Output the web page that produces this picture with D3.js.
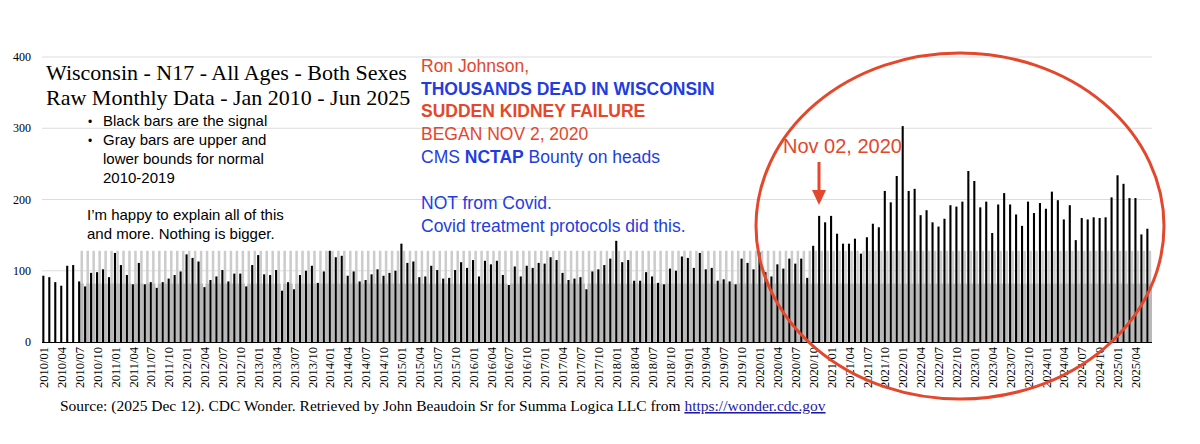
<!DOCTYPE html>
<html><head><meta charset="utf-8">
<script src="https://cdn.jsdelivr.net/npm/d3@7"></script>
<style>body{margin:0;background:#fff}svg{display:block}</style>
</head><body><svg id="c" width="1200" height="444"></svg>
<script>
const signal = [93,91,84,79,107,108,85,78,97,98,102,91,125,108,94,81,111,81,84,76,84,89,94,99,123,118,113,77,87,92,101,85,96,96,78,108,122,95,94,101,72,84,74,94,100,107,83,99,128,119,121,93,99,85,87,95,102,93,97,100,138,111,113,91,92,107,101,89,90,101,112,104,115,92,114,109,114,94,80,106,92,107,104,111,110,119,115,97,87,89,91,74,99,102,108,117,142,112,115,86,86,98,92,83,81,103,100,120,118,104,125,102,104,86,88,85,81,117,111,102,126,98,92,109,103,117,110,117,90,135,177,168,177,152,138,138,145,124,147,166,161,212,196,233,303,212,215,178,185,168,162,173,192,190,197,240,226,189,197,153,193,209,193,179,163,197,181,195,187,211,199,172,192,143,174,172,175,174,175,203,234,222,202,202,151,159];
const upperBound = 128;
const lowerBound = 82;
const boundStart = 6;
const months = signal.map((_, i) => { const y = 2010 + Math.floor(i/12), m = i%12 + 1; return y + "/" + String(m).padStart(2,"0"); });
const yTicks = [0,100,200,300,400];

const svg = d3.select("#c");
const x = d3.scaleBand().domain(months).range([42,1152]).paddingInner(0);
const y = d3.scaleLinear().domain([0,400]).range([342,57]);
const bw = x.bandwidth();

svg.append("g").selectAll("line").data(yTicks.slice(1)).join("line")
  .attr("x1",42).attr("x2",1152).attr("y1",d=>y(d)).attr("y2",d=>y(d))
  .attr("stroke","#dcdcdc").attr("stroke-width",1);
svg.append("g").selectAll("text").data(yTicks).join("text")
  .attr("x",31).attr("y",d=>y(d)+4).attr("text-anchor","end")
  .attr("font-family","Liberation Serif").attr("font-size",12).text(d=>d);

const bmonths = months.slice(boundStart);
svg.append("g").selectAll("rect").data(bmonths).join("rect")
  .attr("x",d=>x(d)+bw*0.45).attr("width",bw*0.42)
  .attr("y",y(upperBound)).attr("height",y(0)-y(upperBound)).attr("fill","#cccccc");
svg.append("g").selectAll("rect").data(bmonths).join("rect")
  .attr("x",d=>x(d)+bw*0.4).attr("width",bw*0.6)
  .attr("y",y(lowerBound)).attr("height",y(0)-y(lowerBound)).attr("fill","#b8b8b8");
svg.append("g").selectAll("rect").data(signal).join("rect")
  .attr("x",(d,i)=>x(months[i])+bw*0.05).attr("width",bw*0.35)
  .attr("y",d=>y(d)).attr("height",d=>y(0)-y(d)).attr("fill","#000");
svg.append("line").attr("x1",42).attr("x2",1152).attr("y1",342.5).attr("y2",342.5).attr("stroke","#000");

svg.append("g").selectAll("text").data(months.filter((d,i)=>i%3===0)).join("text")
  .attr("transform",d=>`translate(${x(d)+bw*0.25+4.5},347) rotate(-90)`)
  .attr("text-anchor","end").attr("font-family","Liberation Serif").attr("font-size",12.5).text(d=>d);

const serif = "Liberation Serif", sans = "Liberation Sans";
function t(xp,yp,s,size,fam,col,w){ return svg.append("text").attr("x",xp).attr("y",yp).attr("font-size",size).attr("font-family",fam).attr("fill",col||"#000").attr("font-weight",w||"normal").text(s); }
t(46,80,"Wisconsin - N17 - All Ages - Both Sexes",22,serif);
t(46,105,"Raw Monthly Data - Jan 2010 - Jun 2025",22,serif);
t(88,126,"•",12,sans); t(103,126,"Black bars are the signal",15,sans);
t(88,145,"•",12,sans); t(103,145,"Gray bars are upper and",15,sans);
t(103,164,"lower bounds for normal",15,sans); t(103,183,"2010-2019",15,sans);
t(87,220,"I’m happy to explain all of this",15,sans); t(87,239,"and more. Nothing is bigger.",15,sans);

const red="#e4472c", blue="#1f3de0";
const fs = 17.5;
t(421,72,"Ron Johnson,",fs,sans,red);
t(421,95,"THOUSANDS DEAD IN WISCONSIN",fs,sans,blue,"bold");
t(421,117,"SUDDEN KIDNEY FAILURE",fs,sans,red,"bold");
t(421,140,"BEGAN NOV 2, 2020",fs,sans,red);
const c = t(421,163,"CMS ",fs,sans,blue);
c.append("tspan").attr("font-weight","bold").text("NCTAP");
c.append("tspan").text(" Bounty on heads");
t(421,209,"NOT from Covid.",fs,sans,blue);
t(421,232,"Covid treatment protocols did this.",fs,sans,blue);

svg.append("ellipse").attr("cx",960).attr("cy",226).attr("rx",204).attr("ry",173)
  .attr("fill","none").attr("stroke","#e4472c").attr("stroke-width",3);
t(783,153,"Nov 02, 2020",20,sans,red);
const ax = x(months[130]) + bw*0.2;
svg.append("line").attr("x1",ax).attr("x2",ax).attr("y1",162).attr("y2",192).attr("stroke",red).attr("stroke-width",3);
svg.append("path").attr("d",`M${ax-7},190 L${ax+7},190 L${ax},205 Z`).attr("fill",red);

const s = t(60,411,"Source: (2025 Dec 12). CDC Wonder. Retrieved by John Beaudoin Sr for Summa Logica LLC from ",15.5,serif);
s.append("tspan").attr("fill","#1a1aa6").attr("text-decoration","underline").text("https://wonder.cdc.gov");
</script></body></html>
